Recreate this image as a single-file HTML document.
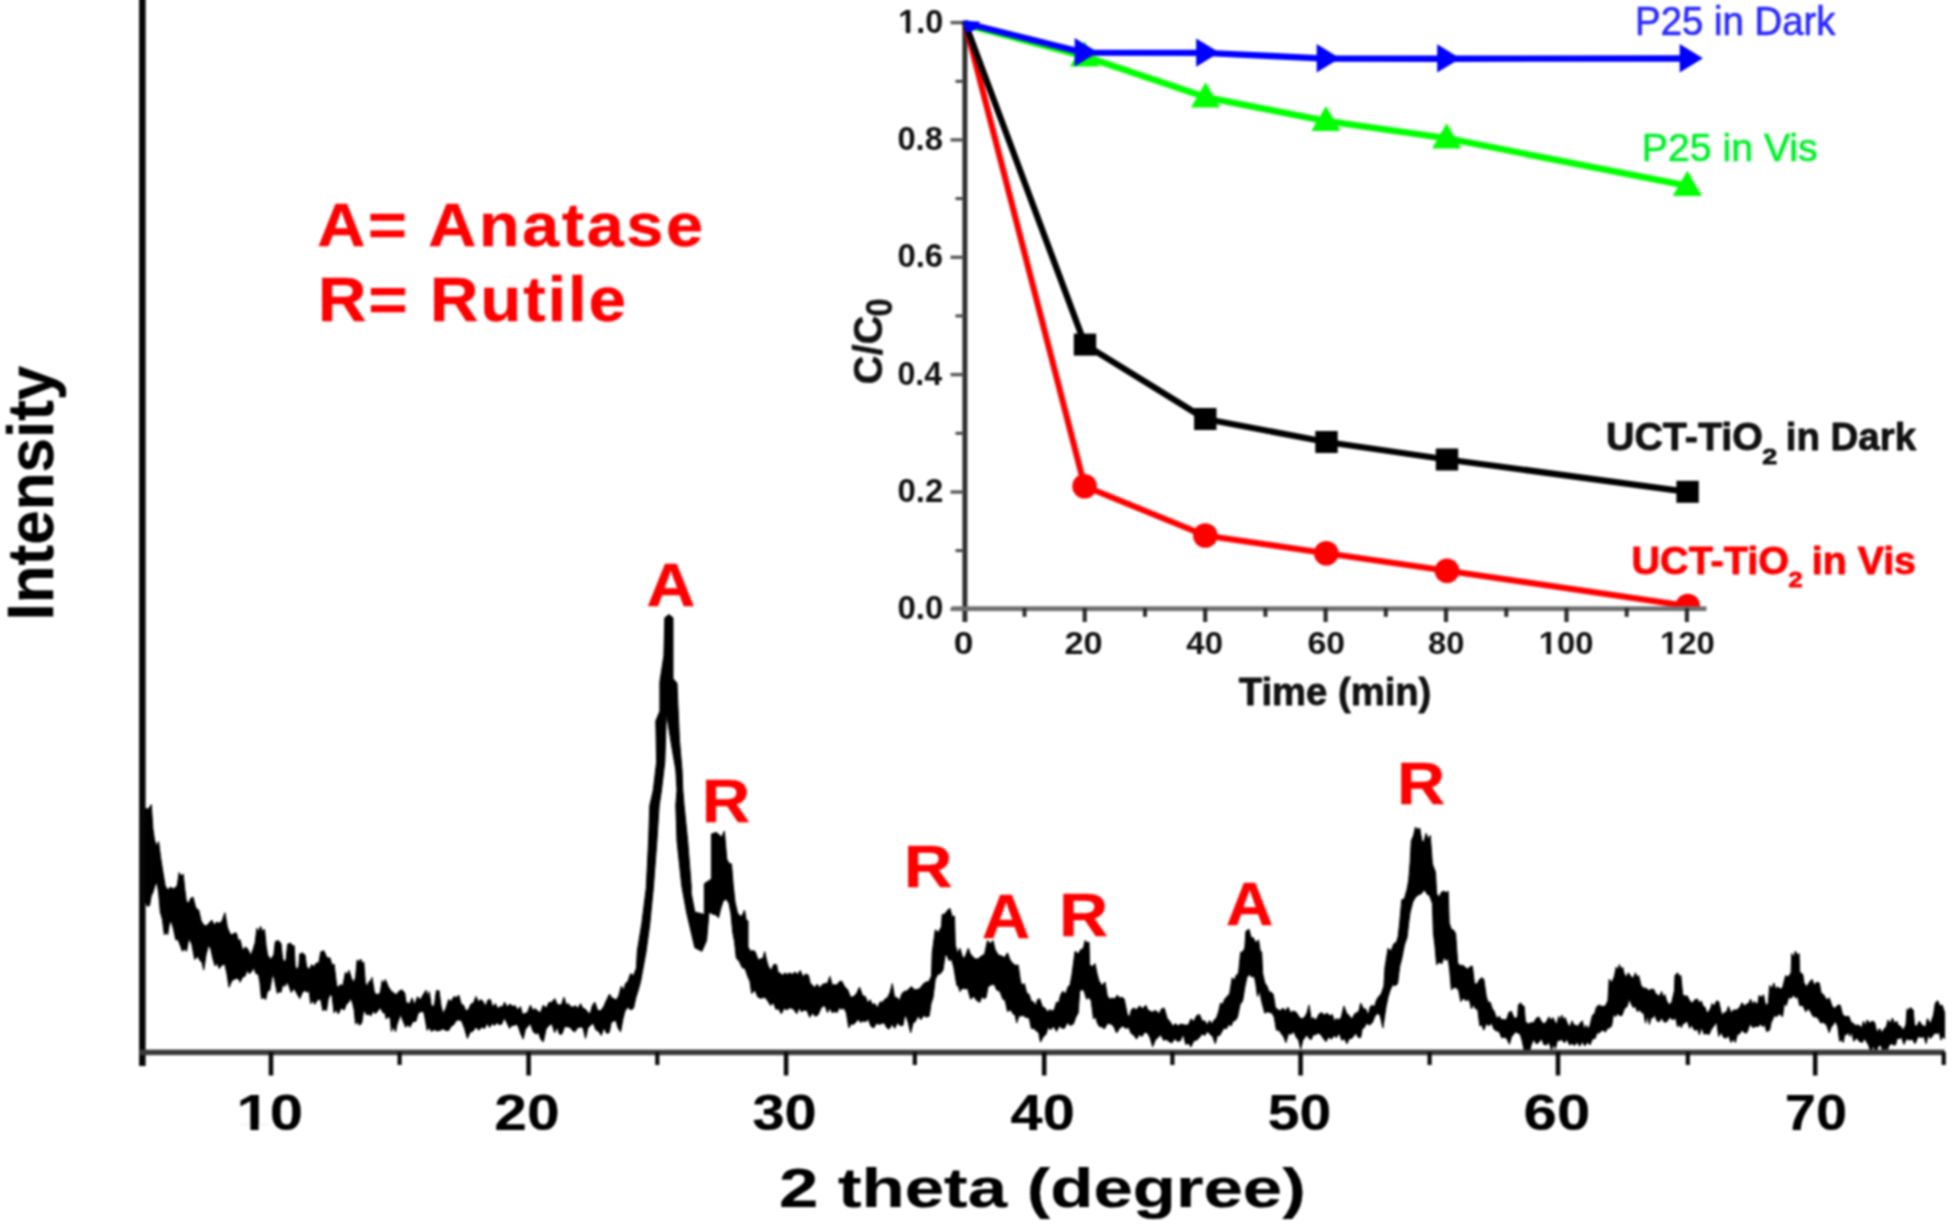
<!DOCTYPE html>
<html lang="en"><head><meta charset="utf-8"><title>XRD pattern of UCT-TiO2 with photocatalytic activity inset</title>
<style>
html,body{margin:0;padding:0;background:#fff;}
body{width:1955px;height:1224px;overflow:hidden;position:relative;}
svg{position:absolute;left:-30px;top:-30px;display:block;font-family:"Liberation Sans",sans-serif;filter:blur(1.25px);}
</style></head><body>
<svg width="2015" height="1284" viewBox="-30 -30 2015 1284">
<rect x="-30" y="-30" width="2015" height="1284" fill="#fff"/>
<g id="fig">
<polygon points="143.0,808.0 145.5,808.7 148.4,809.0 151.3,804.6 152.9,828.7 154.5,839.8 156.6,846.0 158.6,841.5 160.6,857.4 162.7,870.9 165.2,885.7 167.8,890.0 170.5,887.0 173.2,888.9 175.8,887.3 177.4,884.8 179.1,872.6 181.1,876.0 183.2,874.1 184.8,889.4 186.5,902.1 188.7,902.7 190.8,898.2 193.0,897.1 195.8,908.0 198.7,910.1 201.2,921.0 203.7,925.0 206.4,926.0 209.1,923.1 211.8,920.1 214.3,925.0 216.7,922.0 219.2,923.3 222.1,920.9 224.9,912.7 227.4,927.2 229.8,933.1 232.0,935.2 234.2,933.1 236.4,933.1 238.2,940.4 240.0,939.6 242.7,950.6 245.5,946.8 248.2,949.8 250.8,955.5 253.3,948.8 255.1,942.7 256.9,928.3 258.7,931.9 260.5,926.3 262.5,931.6 264.5,929.1 266.1,945.4 267.6,954.9 270.7,959.4 273.8,954.9 275.3,941.6 278.4,940.6 281.0,943.6 282.5,958.0 284.2,962.0 286.0,960.0 287.6,944.2 290.6,943.1 292.4,945.7 294.2,945.7 295.2,966.2 297.0,969.9 298.8,966.2 299.8,953.9 302.4,952.9 305.0,954.9 306.5,966.2 309.1,969.8 311.6,964.6 314.0,966.7 316.4,962.9 318.8,963.1 320.8,951.8 323.9,950.8 326.9,957.8 330.0,958.0 332.1,965.2 334.1,964.1 336.7,985.6 338.5,987.2 340.3,984.6 342.9,985.7 345.4,972.3 347.2,974.6 349.0,970.3 351.5,978.4 353.6,982.3 355.6,977.4 357.1,960.0 358.9,961.7 360.7,959.0 362.2,963.1 363.8,962.1 365.3,982.5 367.1,986.9 368.9,981.5 370.4,981.3 372.0,977.4 374.5,992.8 377.4,994.8 380.2,992.8 382.2,980.5 383.8,983.5 385.3,979.5 388.3,986.6 390.9,990.8 393.5,992.8 396.1,994.8 398.6,991.7 401.6,989.7 404.7,992.8 406.2,1002.8 407.8,1003.0 409.9,1003.6 411.9,997.9 414.7,1004.7 417.5,996.7 420.3,999.9 423.1,994.8 426.2,990.2 427.8,996.7 429.3,991.7 431.3,1006.1 434.4,1006.1 436.4,990.7 439.0,990.7 441.0,1005.6 443.0,1013.7 445.9,1008.3 448.7,999.4 451.2,1001.5 453.8,996.7 456.3,997.4 458.8,995.1 461.2,1003.9 463.5,1005.2 465.9,1010.8 468.4,1009.8 470.9,1004.1 473.5,1003.0 476.0,996.5 478.4,1002.0 480.7,999.5 483.1,1001.5 485.5,1006.4 487.9,1000.1 490.3,999.4 492.8,1007.3 495.3,1003.6 497.8,1008.6 500.3,1006.5 502.5,1006.9 504.6,1002.2 507.2,1007.1 509.9,1004.0 512.5,1006.3 515.1,1005.7 517.8,1010.1 520.4,1006.5 522.5,1014.2 524.7,1013.7 527.5,1012.6 530.4,1005.1 532.8,1010.4 535.1,1008.6 537.5,1010.8 540.4,1012.9 543.3,1005.1 546.1,1008.3 549.0,1002.5 551.9,1002.2 554.7,998.6 556.9,1003.7 559.0,1005.1 561.5,1004.7 564.0,997.2 566.2,1004.8 568.3,1003.6 570.5,1006.5 573.0,1007.2 575.5,1005.7 578.0,1008.5 580.5,1003.7 582.9,1008.3 585.3,1009.1 587.7,1012.2 590.1,1013.9 592.4,1005.4 594.8,1002.2 597.7,1010.5 600.6,1010.8 603.6,1006.8 606.5,1000.2 609.5,994.1 611.8,997.8 614.0,998.8 616.3,1000.1 618.8,995.6 621.3,986.1 623.5,990.2 625.6,983.3 627.8,981.6 630.6,973.6 633.5,975.7 636.4,968.1 637.3,951.0 641.8,923.5 646.2,888.5 648.6,841.0 649.8,805.5 653.3,790.0 656.6,761.9 655.8,721.0 659.9,711.1 659.9,681.7 663.9,655.5 664.8,617.8 668.9,614.6 673.0,617.8 673.0,678.4 677.0,683.3 677.9,704.6 679.5,740.6 682.0,770.0 682.8,790.0 684.1,805.5 687.7,841.0 691.2,886.0 691.2,893.2 694.8,912.0 704.3,914.5 704.3,883.7 711.4,879.0 711.4,834.0 716.0,832.5 718.5,834.1 721.5,837.2 724.4,831.1 726.8,859.1 729.1,863.4 731.5,863.9 733.2,885.1 735.0,901.8 737.4,912.4 739.8,916.1 742.1,915.9 744.5,910.1 746.2,920.2 748.0,920.8 748.0,946.8 750.4,951.3 752.8,950.6 755.2,951.6 758.1,959.9 761.0,958.7 762.9,958.4 764.7,951.6 766.5,959.9 768.2,965.8 771.0,970.7 773.7,964.5 776.5,964.6 778.2,972.8 780.0,972.9 782.4,975.3 784.8,973.0 787.2,974.4 789.6,972.9 792.2,974.4 794.9,972.1 797.6,974.4 800.2,970.5 803.0,976.8 805.7,973.9 808.5,975.3 810.2,983.1 812.0,984.7 814.6,987.4 817.2,984.2 819.8,987.9 822.4,984.4 825.0,983.6 827.5,983.3 829.9,976.4 832.2,985.0 834.6,984.7 837.0,985.1 839.3,981.7 841.7,981.1 844.7,986.7 847.6,989.5 850.6,997.3 853.6,996.6 856.5,993.6 859.5,987.1 862.5,995.6 865.4,996.6 867.8,1003.0 870.1,999.8 872.5,1004.6 874.9,1003.7 877.5,1007.9 880.0,1002.0 882.6,1002.2 885.1,999.0 887.7,997.4 890.0,992.4 892.3,983.6 894.6,997.4 896.9,997.4 899.5,1000.5 902.0,993.4 904.6,991.2 906.9,991.0 909.2,988.5 911.5,986.6 914.2,989.7 917.0,989.7 920.0,988.4 923.0,984.2 926.0,982.0 928.8,981.7 931.5,975.9 932.2,952.8 935.3,929.8 938.3,932.6 941.4,926.7 942.2,914.4 944.8,914.1 947.3,910.4 949.9,908.3 952.2,916.8 954.5,916.0 955.3,945.1 957.6,953.3 959.9,948.2 962.2,955.9 964.1,958.8 966.0,954.4 968.3,948.2 970.2,953.5 972.2,955.9 975.2,959.0 978.3,958.8 981.4,955.9 984.5,954.4 987.5,940.5 990.2,943.8 992.9,940.5 995.2,949.8 998.3,955.0 1001.4,955.9 1004.5,957.6 1007.5,952.8 1009.8,959.3 1012.1,962.8 1015.2,965.3 1018.2,965.1 1020.6,982.0 1022.5,985.1 1024.4,983.6 1026.7,993.1 1029.0,994.3 1031.3,1001.3 1033.6,1002.0 1035.7,1005.6 1037.7,999.3 1039.8,998.9 1042.4,1006.8 1045.1,1008.1 1047.4,1012.1 1049.7,1009.6 1052.0,1011.2 1054.3,1009.4 1056.6,1002.0 1058.7,1002.8 1060.7,994.8 1062.8,991.2 1065.5,993.9 1068.2,986.6 1070.1,984.9 1072.0,974.3 1075.1,951.3 1078.2,953.8 1081.2,949.0 1083.2,949.1 1085.1,940.5 1087.0,942.7 1089.0,942.1 1089.7,965.1 1092.3,966.5 1095.0,963.6 1097.0,973.5 1098.9,980.5 1102.0,985.8 1105.0,982.0 1107.3,995.8 1109.7,999.2 1112.0,998.1 1114.7,998.9 1117.3,995.1 1119.6,998.1 1121.9,997.3 1124.2,998.9 1127.3,1014.3 1129.4,1017.2 1131.4,1009.8 1133.5,1008.1 1136.5,1009.7 1139.6,1005.9 1142.7,1008.8 1145.7,1005.1 1148.0,1010.1 1150.3,1011.2 1152.4,1012.3 1154.4,1010.6 1156.5,1011.2 1159.1,1013.7 1161.6,1008.8 1164.2,1008.1 1167.2,1018.3 1170.3,1022.0 1172.8,1026.3 1175.4,1023.6 1178.0,1026.0 1180.5,1024.1 1183.1,1024.5 1185.8,1025.2 1188.4,1024.8 1191.0,1018.8 1193.8,1021.4 1196.7,1015.5 1199.5,1014.6 1202.2,1020.9 1204.8,1020.9 1207.2,1024.9 1209.5,1020.5 1211.9,1023.9 1214.3,1019.8 1216.4,1018.1 1218.5,1012.0 1220.6,1003.0 1222.7,1004.2 1224.8,999.0 1226.9,996.7 1229.6,993.8 1232.2,977.7 1234.3,980.4 1236.4,974.9 1238.5,973.5 1240.6,952.4 1242.7,951.7 1244.8,948.2 1245.9,931.3 1249.0,929.2 1251.1,937.7 1253.2,937.7 1255.8,942.8 1258.5,939.8 1260.1,950.2 1261.7,952.4 1262.7,973.5 1264.8,982.9 1267.0,986.1 1269.1,991.9 1271.2,992.1 1273.3,994.6 1275.4,1007.5 1277.5,1009.3 1280.1,1010.9 1282.8,1008.0 1285.4,1011.0 1288.0,1007.2 1290.8,1012.8 1293.6,1011.0 1296.4,1012.5 1299.2,1017.1 1302.1,1019.0 1304.9,1016.7 1307.0,1012.8 1309.0,1005.1 1311.2,1018.9 1313.3,1017.7 1316.1,1020.3 1318.9,1014.2 1321.7,1012.5 1324.3,1015.0 1327.0,1013.1 1329.7,1015.7 1332.3,1014.6 1334.4,1021.2 1336.5,1018.5 1338.6,1019.8 1341.2,1017.6 1343.9,1006.1 1346.5,1012.9 1349.1,1015.6 1351.9,1019.1 1354.8,1013.5 1357.6,1012.5 1359.2,1010.1 1360.7,1003.0 1363.3,1008.6 1366.0,1009.3 1368.1,1015.7 1370.2,1007.0 1372.3,1005.1 1374.4,1007.1 1376.5,1000.1 1378.6,996.7 1381.2,994.0 1383.9,986.1 1385.0,967.1 1388.1,948.2 1390.9,951.2 1393.8,943.8 1396.6,941.9 1398.2,936.4 1399.7,922.9 1401.8,899.7 1404.4,898.8 1407.1,889.1 1408.7,880.3 1410.2,861.8 1411.3,840.7 1413.4,836.0 1415.5,827.0 1417.6,829.4 1419.7,828.1 1421.8,840.7 1423.9,841.9 1426.0,833.3 1428.2,838.7 1430.3,835.4 1432.4,863.9 1435.5,872.3 1436.6,893.4 1439.1,897.5 1441.5,892.1 1444.0,891.3 1446.1,892.6 1448.2,891.3 1449.2,922.9 1451.3,929.3 1453.5,930.1 1455.6,933.4 1457.7,962.9 1460.1,965.6 1462.6,965.2 1465.0,967.1 1467.5,969.2 1469.9,966.8 1472.4,966.1 1474.5,984.0 1477.0,984.0 1479.4,979.5 1481.9,977.7 1483.8,979.2 1486.4,997.1 1488.3,1002.3 1490.2,1002.2 1492.2,1008.4 1494.1,1011.2 1496.7,1018.5 1499.2,1016.3 1501.3,1019.5 1503.5,1019.5 1505.6,1020.1 1507.2,1018.0 1508.8,1012.5 1511.3,1011.2 1513.9,1017.6 1515.8,1018.4 1517.7,1016.3 1518.4,1004.8 1520.9,1002.9 1522.5,1006.0 1524.1,1006.1 1525.4,1021.4 1528.2,1024.0 1530.9,1022.8 1533.7,1022.7 1536.3,1018.2 1538.8,1016.9 1541.4,1021.4 1544.0,1024.2 1546.5,1021.4 1549.0,1016.9 1551.0,1020.4 1552.9,1017.6 1555.4,1022.7 1557.0,1024.1 1558.6,1016.3 1560.2,1020.6 1561.8,1015.0 1563.4,1019.4 1565.0,1017.6 1567.6,1024.0 1569.8,1027.0 1572.0,1020.8 1574.0,1025.2 1575.9,1025.2 1578.0,1026.4 1580.2,1022.9 1582.3,1020.8 1584.2,1029.2 1586.1,1025.2 1588.0,1029.1 1590.0,1025.2 1592.5,1015.0 1594.5,1014.1 1596.4,1007.3 1598.9,1004.8 1601.0,1006.3 1603.2,1006.3 1605.3,1006.1 1607.9,1000.9 1609.2,979.2 1611.8,982.4 1614.3,976.6 1616.2,967.1 1617.8,969.8 1619.4,964.5 1621.0,969.0 1622.6,967.1 1623.9,972.8 1626.1,977.7 1628.3,972.8 1630.9,976.6 1633.2,978.4 1635.4,972.8 1637.0,977.0 1638.6,975.4 1641.1,985.6 1643.7,988.2 1646.2,988.2 1648.8,990.6 1651.3,989.2 1653.9,989.4 1655.5,993.6 1657.1,994.5 1659.3,996.6 1661.6,991.4 1663.2,997.3 1664.8,994.5 1666.7,1000.9 1669.2,1005.0 1671.8,1002.2 1674.4,990.7 1675.0,975.4 1677.6,972.8 1679.2,976.1 1680.8,975.4 1682.7,994.5 1685.0,996.3 1687.2,995.8 1689.7,1000.9 1692.3,1003.2 1694.8,999.8 1697.4,999.0 1699.3,1003.0 1701.2,1000.9 1703.2,1006.2 1705.1,1007.3 1707.0,1013.2 1708.9,1011.2 1710.5,1008.5 1712.1,1003.5 1714.3,1006.0 1716.6,1000.9 1718.7,1001.4 1721.8,1014.9 1724.8,1012.5 1726.7,1011.5 1728.5,1006.3 1731.0,1013.0 1733.4,1010.0 1736.5,1010.0 1739.6,1007.6 1742.0,1002.7 1744.5,1006.1 1746.9,1003.9 1748.8,1003.3 1750.6,999.0 1752.4,1004.3 1754.3,1001.4 1756.2,1004.0 1758.0,1002.7 1759.2,995.3 1761.3,997.3 1763.5,994.7 1765.3,1003.9 1766.8,1005.3 1768.4,1002.7 1769.6,985.5 1771.8,988.4 1773.9,983.0 1775.8,989.8 1777.6,986.7 1780.0,989.1 1782.5,987.9 1785.6,975.7 1788.3,976.9 1791.1,972.6 1791.7,953.6 1793.6,957.2 1795.4,951.1 1797.2,955.0 1799.1,953.6 1799.7,972.0 1802.8,974.4 1804.0,983.0 1806.7,986.8 1809.3,982.4 1812.0,979.3 1814.4,985.2 1816.9,982.1 1819.3,983.0 1821.2,993.4 1823.0,994.1 1825.1,997.2 1827.1,1000.1 1829.2,997.8 1832.2,1006.3 1834.9,1008.5 1837.5,1005.3 1840.2,1005.1 1842.7,1014.9 1845.8,1016.7 1848.8,1016.2 1851.2,1022.4 1853.7,1023.5 1855.8,1025.9 1857.8,1024.8 1859.9,1026.0 1861.7,1027.9 1863.5,1021.1 1865.3,1026.0 1867.2,1019.9 1869.7,1023.3 1872.1,1021.1 1874.6,1022.3 1877.0,1032.6 1879.5,1028.4 1882.0,1032.7 1884.4,1028.4 1886.2,1027.1 1888.1,1019.9 1890.2,1023.7 1892.4,1018.0 1894.6,1023.6 1896.7,1021.1 1898.6,1026.0 1900.4,1026.0 1903.2,1030.3 1905.9,1024.8 1907.1,1008.8 1908.7,1010.3 1910.2,1007.6 1913.3,1010.0 1914.5,1026.0 1917.0,1025.9 1919.4,1021.1 1921.6,1024.7 1923.7,1026.0 1925.6,1027.1 1927.4,1018.6 1930.5,1023.7 1933.5,1014.9 1935.4,1002.7 1937.8,1000.8 1939.9,1006.0 1942.1,1005.1 1944.6,1012.5 1944.6,1038.8 1942.8,1035.9 1940.9,1040.1 1939.1,1032.0 1937.2,1033.9 1934.8,1032.7 1932.3,1036.4 1930.2,1038.5 1928.2,1035.1 1926.1,1043.7 1923.7,1036.4 1921.2,1037.6 1918.2,1036.4 1915.1,1043.7 1912.0,1039.1 1909.0,1040.1 1906.5,1038.6 1904.0,1044.4 1901.5,1037.3 1899.1,1038.8 1897.3,1038.1 1895.5,1045.0 1893.4,1044.9 1891.4,1043.7 1889.3,1045.0 1886.9,1051.1 1885.1,1047.2 1883.2,1052.3 1880.8,1045.2 1878.3,1046.2 1875.8,1052.3 1873.3,1045.7 1870.9,1052.3 1868.5,1045.0 1866.4,1041.7 1864.4,1038.4 1862.3,1042.5 1859.4,1041.5 1856.6,1037.8 1853.7,1041.3 1851.8,1031.8 1850.0,1036.4 1848.2,1031.8 1846.4,1035.2 1844.8,1033.6 1843.3,1042.5 1841.4,1039.8 1839.6,1041.3 1837.8,1026.6 1835.3,1021.0 1832.8,1025.3 1831.0,1027.5 1829.2,1032.7 1826.7,1025.3 1823.7,1022.5 1820.6,1022.9 1818.1,1018.3 1815.7,1016.8 1813.2,1016.7 1810.7,1012.1 1808.3,1008.4 1805.8,1011.8 1802.8,1005.3 1799.7,1005.7 1797.8,996.6 1796.0,998.3 1793.5,994.9 1791.1,998.3 1788.7,997.2 1786.2,1005.7 1784.3,1003.4 1782.5,1016.7 1779.5,1013.9 1776.4,1016.7 1774.6,1015.2 1772.7,1019.2 1771.2,1022.6 1769.6,1030.2 1766.6,1031.5 1764.8,1024.8 1762.9,1026.6 1760.5,1024.3 1758.0,1026.6 1755.5,1026.3 1753.1,1027.8 1750.0,1024.1 1746.9,1032.7 1744.5,1032.9 1742.0,1029.7 1739.6,1033.9 1737.4,1034.3 1735.3,1042.5 1733.2,1038.9 1731.0,1042.5 1728.5,1035.6 1726.0,1038.2 1723.6,1037.4 1721.1,1032.2 1718.7,1036.4 1716.6,1021.9 1714.0,1025.8 1711.5,1029.1 1708.9,1034.7 1706.5,1033.4 1704.1,1034.2 1701.7,1027.2 1699.3,1034.7 1697.7,1029.0 1696.1,1030.2 1694.0,1029.8 1691.8,1024.7 1689.7,1028.3 1687.2,1020.8 1684.6,1023.2 1683.0,1023.3 1681.4,1027.7 1679.5,1024.6 1677.6,1027.0 1675.7,1018.1 1672.7,1019.7 1669.7,1017.3 1666.7,1021.9 1664.1,1022.0 1661.6,1017.7 1659.0,1021.9 1656.9,1020.7 1654.7,1014.8 1652.6,1018.1 1651.0,1017.7 1649.4,1024.5 1647.5,1015.9 1645.6,1023.2 1643.7,1013.0 1641.6,1012.6 1639.4,1009.7 1637.3,1011.7 1635.4,1006.0 1633.5,1007.9 1631.4,1004.3 1629.2,999.0 1627.1,1006.6 1624.5,1008.5 1621.9,1015.5 1619.8,1015.7 1617.6,1013.4 1615.5,1016.8 1613.6,1013.1 1611.7,1025.8 1609.6,1027.9 1607.4,1028.4 1605.3,1032.2 1603.2,1029.9 1601.0,1031.0 1598.9,1033.4 1597.0,1032.6 1595.1,1038.5 1592.5,1038.8 1590.0,1044.9 1587.4,1042.0 1584.8,1046.0 1582.3,1041.6 1579.7,1046.2 1577.2,1042.1 1574.6,1045.4 1572.0,1043.5 1569.5,1044.9 1567.0,1039.1 1564.4,1042.9 1561.8,1039.6 1559.3,1040.5 1557.3,1040.7 1555.4,1048.8 1553.5,1044.5 1551.6,1050.1 1549.0,1042.3 1546.5,1044.9 1543.9,1044.6 1541.4,1038.5 1538.8,1042.4 1536.3,1043.9 1533.7,1039.3 1531.2,1044.9 1529.2,1053.3 1527.0,1049.6 1524.8,1053.3 1522.2,1041.1 1520.3,1034.4 1518.4,1033.4 1515.8,1031.7 1513.2,1034.7 1511.3,1037.3 1509.4,1044.3 1506.8,1038.5 1504.2,1037.1 1501.7,1037.9 1499.2,1031.6 1496.6,1030.9 1494.1,1029.4 1491.5,1023.0 1489.0,1025.8 1486.4,1023.6 1483.8,1030.2 1481.8,1024.8 1479.8,1025.9 1477.7,1009.0 1475.6,1009.0 1473.5,1004.6 1471.4,1009.0 1469.8,1001.7 1468.2,999.5 1465.7,1000.6 1463.3,997.9 1460.8,1001.6 1458.7,990.4 1456.6,987.9 1454.0,987.3 1451.4,990.0 1449.8,971.5 1448.2,958.4 1446.1,960.6 1444.0,957.1 1441.9,963.7 1439.2,962.2 1436.6,964.7 1435.0,946.4 1433.4,933.1 1432.4,903.6 1429.8,896.1 1427.1,894.1 1424.2,889.7 1421.3,893.7 1418.4,894.9 1415.5,897.3 1412.8,902.0 1410.2,912.1 1408.7,922.8 1407.1,937.3 1404.4,945.1 1401.8,958.4 1399.7,966.6 1397.6,983.7 1395.1,985.8 1392.7,984.6 1390.2,990.0 1388.1,996.9 1386.0,1006.9 1382.9,1028.0 1380.2,1015.7 1377.6,1013.2 1374.9,1016.2 1372.3,1022.7 1369.5,1025.1 1366.7,1023.2 1363.9,1028.0 1362.3,1028.5 1360.7,1037.5 1358.3,1037.6 1355.8,1033.0 1353.4,1036.4 1351.3,1038.7 1349.1,1038.5 1347.0,1043.8 1344.4,1038.6 1341.8,1040.3 1339.1,1032.9 1336.5,1037.5 1333.9,1035.6 1331.2,1039.3 1328.6,1036.7 1326.0,1041.7 1323.2,1038.3 1320.3,1034.0 1317.5,1033.2 1315.4,1035.0 1313.3,1034.6 1311.2,1039.6 1309.1,1038.6 1307.0,1034.7 1304.9,1037.5 1302.8,1040.3 1300.7,1049.0 1298.6,1040.1 1296.4,1037.5 1293.8,1031.6 1291.2,1034.3 1288.6,1033.3 1285.9,1042.7 1283.8,1037.0 1281.7,1034.3 1279.1,1030.3 1276.4,1030.1 1274.3,1017.6 1272.2,1013.2 1269.7,1012.5 1267.3,1011.7 1264.8,1013.2 1261.7,1001.6 1259.6,991.1 1257.5,996.4 1255.9,984.5 1254.3,976.3 1251.8,977.1 1249.4,974.6 1246.9,977.4 1244.8,987.3 1242.7,1000.6 1240.1,1004.5 1237.4,1017.4 1235.3,1020.5 1233.2,1021.0 1231.1,1025.9 1228.7,1024.5 1226.3,1028.9 1224.0,1027.8 1221.6,1032.2 1219.5,1035.7 1217.4,1035.5 1215.3,1043.8 1212.7,1036.6 1210.0,1034.3 1207.4,1031.4 1204.8,1035.5 1202.1,1033.8 1199.5,1037.5 1196.7,1040.1 1193.8,1040.7 1191.0,1046.9 1188.4,1043.2 1185.8,1044.4 1183.1,1033.8 1180.5,1040.6 1177.6,1041.5 1174.8,1038.5 1171.9,1042.9 1169.1,1041.6 1166.3,1039.4 1163.6,1040.3 1160.8,1034.8 1158.0,1037.6 1155.3,1040.0 1152.7,1046.8 1150.1,1037.8 1147.4,1033.0 1144.7,1032.0 1142.0,1036.5 1139.3,1034.5 1136.6,1039.1 1133.9,1035.3 1131.2,1033.4 1128.5,1027.3 1125.8,1028.4 1122.7,1025.9 1119.7,1028.2 1116.6,1033.0 1113.5,1025.9 1110.4,1023.8 1107.3,1023.6 1104.3,1029.1 1102.0,1026.7 1099.7,1026.8 1097.6,1023.7 1095.6,1016.7 1093.5,1019.1 1091.2,1000.7 1088.9,997.4 1086.6,999.2 1084.3,991.5 1082.0,989.3 1079.7,991.5 1078.2,1013.0 1075.8,1017.2 1073.5,1023.8 1070.4,1025.6 1067.4,1022.7 1064.3,1028.4 1061.7,1028.0 1059.2,1026.0 1056.6,1031.4 1053.5,1026.3 1050.5,1029.9 1048.2,1027.0 1045.9,1034.5 1043.2,1036.8 1040.5,1042.2 1038.6,1032.0 1036.7,1031.4 1034.0,1028.5 1031.3,1028.4 1029.4,1018.6 1027.5,1017.6 1025.4,1017.3 1023.4,1015.2 1021.3,1016.1 1019.0,1015.7 1016.7,1023.0 1015.2,1014.9 1013.6,1014.5 1010.5,1009.7 1007.5,1011.5 1005.2,1000.5 1002.9,999.2 999.8,991.2 996.7,990.0 994.4,984.5 992.1,984.6 989.8,985.4 987.9,987.5 986.0,997.6 983.9,998.7 981.9,996.3 979.8,1002.3 976.7,1000.6 973.7,996.4 970.6,999.2 967.6,988.4 965.0,988.9 962.5,988.1 959.9,991.5 958.3,986.0 956.8,985.4 953.7,966.9 951.4,959.0 949.1,960.8 947.2,955.7 945.3,954.6 943.0,970.0 940.4,973.7 937.9,974.2 935.3,979.2 933.0,997.6 931.1,1003.2 929.2,1016.1 926.4,1017.1 923.6,1015.4 920.9,1019.7 918.1,1015.9 915.3,1021.5 913.0,1023.1 910.7,1032.9 908.4,1023.2 906.1,1016.1 904.5,1016.6 903.0,1025.3 900.2,1025.7 897.5,1022.7 894.7,1028.3 892.0,1024.1 889.2,1029.1 886.8,1027.8 884.4,1022.9 882.0,1023.3 879.2,1024.4 876.5,1023.2 873.7,1027.9 870.9,1026.3 868.2,1019.0 865.4,1021.9 863.0,1020.8 860.6,1022.5 858.3,1019.2 855.9,1021.9 853.5,1024.5 851.2,1023.8 848.8,1027.9 846.4,1013.1 844.0,1007.9 841.7,1009.3 839.3,1007.7 837.0,1012.6 834.6,1011.5 832.2,1012.7 829.9,1008.0 827.5,1012.6 825.7,1007.6 823.9,1005.5 821.0,1008.1 818.0,1014.9 815.2,1016.2 812.5,1012.9 809.7,1017.3 806.8,1010.3 803.8,1010.2 801.4,1011.8 799.1,1007.7 796.7,1013.8 794.3,1010.1 792.0,1008.2 789.6,1007.9 786.8,1009.8 784.1,1008.3 781.3,1013.8 778.6,1008.7 776.0,1009.4 773.3,1002.5 770.6,1005.5 768.2,1001.6 765.8,998.1 763.4,997.3 761.0,998.4 757.9,997.0 754.8,990.1 751.7,993.6 749.9,981.1 748.0,977.1 745.1,968.7 742.2,967.6 739.2,961.3 736.3,958.1 734.5,941.6 732.7,931.9 730.9,913.2 729.0,903.6 726.1,898.8 723.2,901.2 720.9,908.0 718.5,917.9 716.1,914.9 713.7,914.5 709.0,912.2 706.6,940.6 701.9,951.3 694.8,947.7 686.5,912.0 681.8,886.0 677.0,841.0 675.8,805.5 677.0,790.0 675.8,770.0 671.3,743.9 666.4,712.8 664.8,762.0 661.5,790.0 659.2,805.5 656.9,841.0 653.3,888.5 649.8,924.0 646.0,952.0 640.7,981.1 638.3,989.9 635.9,997.5 633.5,1008.3 630.6,1009.9 627.8,1007.1 624.9,1011.2 622.8,1019.6 620.6,1031.9 618.2,1028.3 615.8,1020.4 613.4,1021.2 611.3,1022.3 609.2,1032.7 606.6,1033.3 603.9,1027.4 601.3,1035.5 598.6,1031.2 595.9,1029.9 593.2,1023.0 590.5,1025.5 588.0,1027.6 585.5,1038.4 583.0,1027.6 580.5,1026.9 577.6,1027.8 574.8,1031.9 572.4,1030.4 570.0,1027.2 567.6,1026.9 564.8,1026.3 561.9,1034.1 559.5,1034.2 557.1,1026.9 554.7,1032.7 551.9,1023.7 549.0,1025.5 546.1,1028.9 543.3,1041.9 540.9,1039.4 538.4,1032.5 536.0,1034.1 533.2,1031.7 530.3,1023.4 527.5,1026.9 525.4,1029.3 523.2,1039.1 520.8,1034.0 518.4,1026.8 516.0,1024.1 513.9,1025.5 511.7,1025.4 509.6,1028.4 507.0,1023.0 504.3,1017.9 501.7,1024.1 499.3,1024.9 497.0,1022.4 494.6,1025.5 492.1,1023.5 489.6,1027.4 487.1,1023.2 484.6,1028.4 481.7,1027.1 478.8,1030.3 475.9,1026.9 473.0,1031.2 470.2,1032.1 467.4,1038.4 464.5,1028.4 461.7,1021.1 458.8,1019.8 456.3,1020.6 453.8,1024.7 451.2,1026.3 448.7,1030.5 445.8,1030.4 442.9,1028.7 440.0,1030.4 437.1,1030.9 434.2,1029.6 431.3,1031.4 429.2,1027.2 427.2,1030.4 424.1,1013.0 422.1,1011.3 420.0,1011.9 418.0,1013.6 416.0,1021.2 412.9,1021.5 409.8,1027.3 407.8,1024.5 405.7,1027.3 402.7,1020.1 400.6,1014.4 398.6,1020.1 397.1,1024.1 395.5,1031.9 393.4,1026.6 391.4,1031.4 390.4,1019.1 388.4,1016.3 386.3,1019.1 384.8,1012.7 383.2,1013.0 380.1,1007.5 377.1,1011.9 375.0,1013.6 373.0,1010.8 370.9,1016.0 368.9,1014.0 366.9,1015.0 363.8,1009.9 361.7,1023.2 359.2,1025.2 357.4,1021.4 355.6,1024.2 354.1,1009.6 352.5,1002.7 350.4,998.4 348.4,1002.7 346.4,1004.0 344.3,1009.9 341.2,1008.1 338.2,1014.0 336.1,1009.3 334.1,1013.0 332.0,995.6 330.0,994.6 328.2,999.3 326.4,1010.9 324.6,1009.0 322.9,1010.9 320.8,999.7 317.8,999.4 314.7,1004.3 312.6,1000.5 310.6,1003.8 309.1,990.3 307.5,992.5 304.9,990.4 302.4,992.5 299.8,998.6 296.8,993.5 294.0,988.4 291.2,992.5 289.1,986.4 287.1,981.6 285.0,986.4 282.9,984.5 280.9,992.5 279.1,991.4 277.3,993.5 274.8,981.3 273.2,973.3 271.7,979.2 269.7,990.5 267.6,990.7 265.6,999.7 263.6,997.6 261.5,998.6 259.9,982.6 258.4,974.1 256.0,973.8 253.7,967.7 251.3,972.1 249.2,973.7 247.2,970.1 245.1,976.1 242.6,977.1 240.0,982.3 239.7,980.8 237.2,978.1 234.8,979.1 231.9,980.6 229.0,987.3 226.9,973.6 224.9,964.4 222.1,964.9 219.2,968.5 217.1,962.8 215.1,966.0 212.9,958.7 210.8,949.1 208.6,944.8 206.1,954.6 203.7,970.1 202.1,962.5 200.4,961.1 197.6,956.4 194.7,959.5 191.8,944.2 188.9,938.2 186.5,951.3 184.4,948.9 182.4,951.3 180.2,945.2 178.0,939.6 175.8,939.9 173.4,928.6 170.9,920.2 169.2,925.0 167.6,934.9 166.0,932.5 164.4,934.9 162.4,919.3 160.3,912.0 158.7,893.2 157.0,882.6 154.9,885.7 152.9,892.4 151.2,895.9 149.6,905.5 147.4,906.3 145.2,901.5 143.0,906.0" fill="#000" stroke="#000" stroke-width="1" stroke-linejoin="round"/>
<rect x="139.1" y="-20" width="6.5" height="1086" fill="#050505"/>
<rect x="139.6" y="1049.6" width="1805" height="5.6" fill="#3a3a3a"/>
<rect x="268.7" y="1052" width="4.6" height="23.5" fill="#0a0a0a"/>
<rect x="526.3" y="1052" width="4.6" height="23.5" fill="#0a0a0a"/>
<rect x="783.8" y="1052" width="4.6" height="23.5" fill="#0a0a0a"/>
<rect x="1041.9" y="1052" width="4.6" height="23.5" fill="#0a0a0a"/>
<rect x="1298.3" y="1052" width="4.6" height="23.5" fill="#0a0a0a"/>
<rect x="1555.7" y="1052" width="4.6" height="23.5" fill="#0a0a0a"/>
<rect x="1812.9" y="1052" width="4.6" height="23.5" fill="#0a0a0a"/>
<rect x="397.5" y="1052" width="4.2" height="13" fill="#0a0a0a"/>
<rect x="655.2" y="1052" width="4.2" height="13" fill="#0a0a0a"/>
<rect x="912.7" y="1052" width="4.2" height="13" fill="#0a0a0a"/>
<rect x="1170.3" y="1052" width="4.2" height="13" fill="#0a0a0a"/>
<rect x="1427.5" y="1052" width="4.2" height="13" fill="#0a0a0a"/>
<rect x="1685.7" y="1052" width="4.2" height="13" fill="#0a0a0a"/>
<rect x="1941.6" y="1052" width="4.2" height="13" fill="#0a0a0a"/>
<g transform="translate(236.45,1129.70) scale(1.1981,1)"><text font-size="50.04" font-weight="bold" fill="#000" stroke="#000" stroke-width="0.2" stroke-linejoin="round">10</text><rect x="2.25" y="-5.40" width="9.41" height="6.25" fill="#fff"/><rect x="18.51" y="-5.40" width="8.76" height="6.25" fill="#fff"/></g>
<text transform="translate(494.34,1129.70) scale(1.1740,1)" font-size="50.04" font-weight="bold" fill="#000" stroke="#000" stroke-width="0.2" stroke-linejoin="round">20</text>
<text transform="translate(752.40,1129.70) scale(1.1543,1)" font-size="50.04" font-weight="bold" fill="#000" stroke="#000" stroke-width="0.2" stroke-linejoin="round">30</text>
<text transform="translate(1010.53,1129.70) scale(1.1537,1)" font-size="50.04" font-weight="bold" fill="#000" stroke="#000" stroke-width="0.2" stroke-linejoin="round">40</text>
<text transform="translate(1267.79,1129.70) scale(1.1415,1)" font-size="50.04" font-weight="bold" fill="#000" stroke="#000" stroke-width="0.2" stroke-linejoin="round">50</text>
<text transform="translate(1523.55,1129.70) scale(1.1982,1)" font-size="50.04" font-weight="bold" fill="#000" stroke="#000" stroke-width="0.2" stroke-linejoin="round">60</text>
<text transform="translate(1784.82,1129.70) scale(1.1184,1)" font-size="50.04" font-weight="bold" fill="#000" stroke="#000" stroke-width="0.2" stroke-linejoin="round">70</text>
<text transform="translate(779.02,1207.20) scale(1.2786,1)" font-size="55.34" font-weight="bold" fill="#000" stroke="#000" stroke-width="0.2" stroke-linejoin="round">2 theta (degree)</text>
<text transform="translate(52.50,620.48) rotate(-90) scale(0.9527,1)" font-size="65.02" font-weight="bold" fill="#000" stroke="#000" stroke-width="0.4" stroke-linejoin="round">Intensity</text>
<text transform="translate(317.33,246.40) scale(1.0750,1)" font-size="61.96" font-weight="bold" fill="#ff0000" stroke="#ff0000" stroke-width="0.4" stroke-linejoin="round" letter-spacing="2.443">A= Anatase</text>
<text transform="translate(317.64,321.40) scale(1.0750,1)" font-size="62.84" font-weight="bold" fill="#ff0000" stroke="#ff0000" stroke-width="0.4" stroke-linejoin="round" letter-spacing="1.609">R= Rutile</text>
<text transform="translate(646.61,606.10) scale(1.0887,1)" font-size="61.96" font-weight="bold" fill="#ff0000" stroke="#ff0000" stroke-width="0.4" stroke-linejoin="round">A</text>
<text transform="translate(701.68,821.70) scale(1.1052,1)" font-size="60.65" font-weight="bold" fill="#ff0000" stroke="#ff0000" stroke-width="0.4" stroke-linejoin="round">R</text>
<text transform="translate(903.64,887.00) scale(1.1320,1)" font-size="59.64" font-weight="bold" fill="#ff0000" stroke="#ff0000" stroke-width="0.4" stroke-linejoin="round">R</text>
<text transform="translate(981.93,938.10) scale(1.0667,1)" font-size="62.55" font-weight="bold" fill="#ff0000" stroke="#ff0000" stroke-width="0.4" stroke-linejoin="round">A</text>
<text transform="translate(1058.90,935.70) scale(1.1101,1)" font-size="61.38" font-weight="bold" fill="#ff0000" stroke="#ff0000" stroke-width="0.4" stroke-linejoin="round">R</text>
<text transform="translate(1225.96,924.60) scale(1.0624,1)" font-size="61.67" font-weight="bold" fill="#ff0000" stroke="#ff0000" stroke-width="0.4" stroke-linejoin="round">A</text>
<text transform="translate(1397.00,804.20) scale(1.1243,1)" font-size="59.35" font-weight="bold" fill="#ff0000" stroke="#ff0000" stroke-width="0.4" stroke-linejoin="round">R</text>
<rect x="962.4" y="20.5" width="5.0" height="601.5" fill="#2e2e2e"/>
<rect x="950.5" y="607.6" width="13" height="3.4" fill="#5a5a5a"/>
<rect x="950.5" y="490.3" width="13" height="3.4" fill="#5a5a5a"/>
<rect x="950.5" y="372.9" width="13" height="3.4" fill="#5a5a5a"/>
<rect x="950.5" y="255.6" width="13" height="3.4" fill="#5a5a5a"/>
<rect x="950.5" y="138.2" width="13" height="3.4" fill="#5a5a5a"/>
<rect x="950.5" y="20.9" width="13" height="3.4" fill="#5a5a5a"/>
<rect x="955.5" y="549.1" width="8.5" height="3" fill="#4a4a4a"/>
<rect x="955.5" y="431.8" width="8.5" height="3" fill="#4a4a4a"/>
<rect x="955.5" y="314.4" width="8.5" height="3" fill="#4a4a4a"/>
<rect x="955.5" y="197.1" width="8.5" height="3" fill="#4a4a4a"/>
<rect x="955.5" y="79.8" width="8.5" height="3" fill="#4a4a4a"/>
<text transform="translate(897.38,619.40) scale(1.0156,1)" font-size="32.54" font-weight="bold" fill="#111">0.0</text>
<text transform="translate(897.38,502.06) scale(1.0137,1)" font-size="32.54" font-weight="bold" fill="#111">0.2</text>
<text transform="translate(897.41,384.72) scale(0.9892,1)" font-size="32.54" font-weight="bold" fill="#111">0.4</text>
<text transform="translate(897.38,267.38) scale(1.0118,1)" font-size="32.54" font-weight="bold" fill="#111">0.6</text>
<text transform="translate(897.39,150.04) scale(1.0079,1)" font-size="32.54" font-weight="bold" fill="#111">0.8</text>
<g transform="translate(898.28,32.70) scale(0.9952,1)"><text font-size="32.54" font-weight="bold" fill="#111">1.0</text><rect x="1.46" y="-3.51" width="6.12" height="4.07" fill="#fff"/><rect x="12.04" y="-3.51" width="5.70" height="4.07" fill="#fff"/></g>
<text transform="translate(953.79,653.50) scale(1.0964,1)" font-size="32.26" font-weight="bold" fill="#111">0</text>
<text transform="translate(1064.50,653.50) scale(1.0663,1)" font-size="32.26" font-weight="bold" fill="#111">20</text>
<text transform="translate(1186.31,653.50) scale(1.0226,1)" font-size="32.26" font-weight="bold" fill="#111">40</text>
<text transform="translate(1307.43,653.50) scale(1.0478,1)" font-size="32.26" font-weight="bold" fill="#111">60</text>
<text transform="translate(1428.04,653.50) scale(1.0129,1)" font-size="32.26" font-weight="bold" fill="#111">80</text>
<g transform="translate(1538.85,653.50) scale(1.0162,1)"><text font-size="32.26" font-weight="bold" fill="#111">100</text><rect x="1.45" y="-3.48" width="6.06" height="4.03" fill="#fff"/><rect x="11.94" y="-3.48" width="5.65" height="4.03" fill="#fff"/></g>
<g transform="translate(1659.94,653.50) scale(1.0221,1)"><text font-size="32.26" font-weight="bold" fill="#111">120</text><rect x="1.45" y="-3.48" width="6.06" height="4.03" fill="#fff"/><rect x="11.94" y="-3.48" width="5.65" height="4.03" fill="#fff"/></g>
<text transform="translate(1238.82,705.20) scale(0.9956,1)" font-size="38.40" font-weight="bold" fill="#111" stroke="#111" stroke-width="0.8" stroke-linejoin="round">Time (min)</text>
<text transform="translate(881.60,384.61) rotate(-90) scale(1.0009,1)" font-size="40.14" font-weight="bold" fill="#111" stroke="#111" stroke-width="0.5" stroke-linejoin="round">C/C</text>
<text transform="translate(892.00,316.61) rotate(-90) scale(0.8926,1)" font-size="36.56" font-weight="bold" fill="#111" stroke="#111" stroke-width="0.3" stroke-linejoin="round">0</text>
<clipPath id="pc"><rect x="940" y="0" width="1015" height="609.6"/></clipPath><g clip-path="url(#pc)">
<polyline points="965.5,24.0 1084.6,486.2 1205.3,535.5 1326.3,553.3 1447.0,570.7 1687.8,606.0" fill="none" stroke="#ff0000" stroke-width="6.1" stroke-linejoin="round" stroke-linecap="round"/>
<polyline points="965.5,24.0 1085.0,344.6 1205.3,419.0 1326.5,442.0 1447.0,459.5 1687.6,491.8" fill="none" stroke="#000" stroke-width="6.3" stroke-linejoin="round" stroke-linecap="round"/>
<polyline points="967.0,25.0 1084.6,56.3 1205.6,97.2 1326.0,120.9 1446.7,138.3 1687.3,185.8" fill="none" stroke="#00ff00" stroke-width="6.6" stroke-linejoin="round" stroke-linecap="round"/>
<polyline points="967.0,23.5 1083.5,52.6 1205.0,52.9 1325.5,58.6 1446.0,58.7 1688.5,58.5" fill="none" stroke="#0000ff" stroke-width="6.4" stroke-linejoin="round" stroke-linecap="round"/>
<rect x="1073.8" y="333.6" width="22.4" height="22" fill="#000"/>
<rect x="1194.1" y="408.0" width="22.4" height="22" fill="#000"/>
<rect x="1315.3" y="431.0" width="22.4" height="22" fill="#000"/>
<rect x="1435.8" y="448.5" width="22.4" height="22" fill="#000"/>
<rect x="1676.4" y="480.8" width="22.4" height="22" fill="#000"/>
<circle cx="1084.6" cy="486.2" r="12.3" fill="#ff0000"/>
<circle cx="1205.3" cy="535.5" r="12.3" fill="#ff0000"/>
<circle cx="1326.3" cy="553.3" r="12.3" fill="#ff0000"/>
<circle cx="1447.0" cy="570.7" r="12.3" fill="#ff0000"/>
<circle cx="1687.8" cy="606.0" r="12.3" fill="#ff0000"/>
<polygon points="1084.6,41.3 1070.0,66.5 1099.2,66.5" fill="#00ff00"/>
<polygon points="1205.6,82.2 1191.0,107.4 1220.2,107.4" fill="#00ff00"/>
<polygon points="1326.0,105.9 1311.4,131.1 1340.6,131.1" fill="#00ff00"/>
<polygon points="1446.7,123.3 1432.1,148.5 1461.3,148.5" fill="#00ff00"/>
<polygon points="1687.3,170.8 1672.7,196.0 1701.9,196.0" fill="#00ff00"/>
<polygon points="1074.7,38.1 1097.9,52.3 1074.7,66.5" fill="#0000ff"/>
<polygon points="1196.2,38.4 1219.4,52.6 1196.2,66.8" fill="#0000ff"/>
<polygon points="1316.7,44.1 1339.9,58.3 1316.7,72.5" fill="#0000ff"/>
<polygon points="1437.2,44.2 1460.4,58.4 1437.2,72.6" fill="#0000ff"/>
<polygon points="1679.7,44.0 1702.9,58.2 1679.7,72.4" fill="#0000ff"/>
<polygon points="963,21 980,21.5 975,30 966,33" fill="#0000ff"/>
</g>
<rect x="951.5" y="606.3" width="755" height="4.8" fill="#707070"/>
<rect x="1082.6" y="608" width="4.2" height="14" fill="#2b2b2b"/>
<rect x="1203.1" y="608" width="4.2" height="14" fill="#2b2b2b"/>
<rect x="1323.5" y="608" width="4.2" height="14" fill="#2b2b2b"/>
<rect x="1443.9" y="608" width="4.2" height="14" fill="#2b2b2b"/>
<rect x="1564.4" y="608" width="4.2" height="14" fill="#2b2b2b"/>
<rect x="1684.8" y="608" width="4.2" height="14" fill="#2b2b2b"/>
<rect x="1022.5" y="608" width="4" height="8.8" fill="#2b2b2b"/>
<rect x="1143.0" y="608" width="4" height="8.8" fill="#2b2b2b"/>
<rect x="1263.4" y="608" width="4" height="8.8" fill="#2b2b2b"/>
<rect x="1383.8" y="608" width="4" height="8.8" fill="#2b2b2b"/>
<rect x="1504.3" y="608" width="4" height="8.8" fill="#2b2b2b"/>
<rect x="1624.7" y="608" width="4" height="8.8" fill="#2b2b2b"/>
<text transform="translate(1635.03,34.80) scale(0.9358,1)" font-size="41.02" font-weight="normal" fill="#2a2aff" stroke="#2a2aff" stroke-width="0.7" stroke-linejoin="round">P25 in Dark</text>
<text transform="translate(1641.76,161.20) scale(0.9919,1)" font-size="39.56" font-weight="normal" fill="#00f02a" stroke="#00f02a" stroke-width="0.7" stroke-linejoin="round">P25 in Vis</text>
<text transform="translate(1605.93,450.00) scale(1.0041,1)" font-size="39.27" font-weight="bold" fill="#111" stroke="#111" stroke-width="0.9" stroke-linejoin="round">UCT-TiO</text>
<text transform="translate(1762.26,464.00) scale(1.1894,1)" font-size="22.65" font-weight="bold" fill="#111" stroke="#111" stroke-width="0.9" stroke-linejoin="round">2</text>
<text transform="translate(1785.71,450.00) scale(0.9819,1)" font-size="39.17" font-weight="bold" fill="#111" stroke="#111" stroke-width="0.9" stroke-linejoin="round">in Dark</text>
<text transform="translate(1631.53,573.80) scale(1.0000,1)" font-size="39.56" font-weight="bold" fill="#ff0000" stroke="#ff0000" stroke-width="0.9" stroke-linejoin="round">UCT-TiO</text>
<text transform="translate(1788.42,587.00) scale(1.1233,1)" font-size="22.51" font-weight="bold" fill="#ff0000" stroke="#ff0000" stroke-width="0.9" stroke-linejoin="round">2</text>
<text transform="translate(1811.74,573.80) scale(0.9951,1)" font-size="39.56" font-weight="bold" fill="#ff0000" stroke="#ff0000" stroke-width="0.9" stroke-linejoin="round">in Vis</text>
</g>
</svg>
</body></html>
